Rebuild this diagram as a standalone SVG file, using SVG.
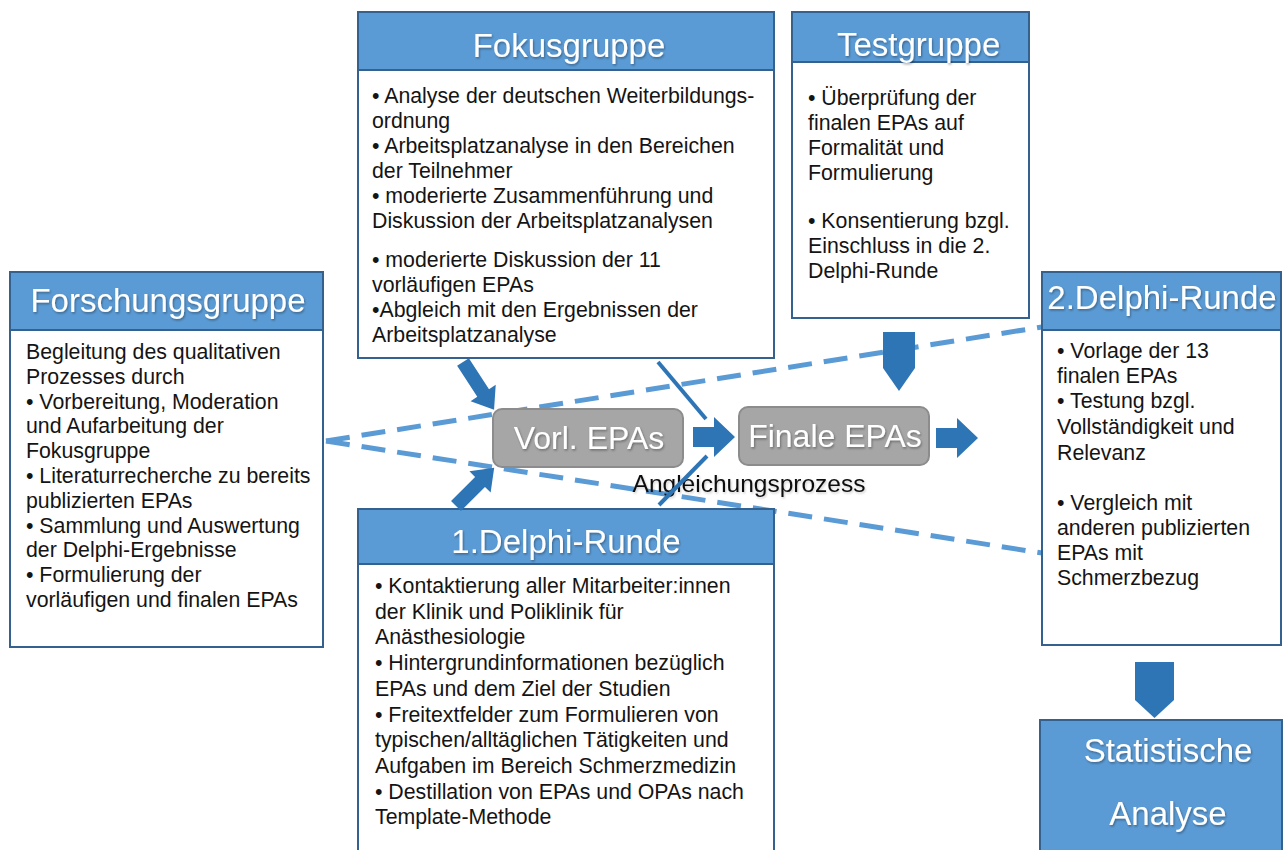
<svg xmlns="http://www.w3.org/2000/svg" width="1285" height="850" viewBox="0 0 1285 850">
  <defs>
    <filter id="shadow" x="-10%" y="-30%" width="120%" height="160%">
      <feDropShadow dx="1" dy="1.5" stdDeviation="1" flood-color="#000" flood-opacity="0.35"/>
    </filter>
    <filter id="softshadow" x="-10%" y="-30%" width="120%" height="160%">
      <feDropShadow dx="1" dy="1.5" stdDeviation="1" flood-color="#000" flood-opacity="0.2"/>
    </filter>
  </defs>
  <style>
    .box { fill: #ffffff; stroke: #35618f; stroke-width: 2; }
    .head { fill: #5b9bd5; stroke: #35618f; stroke-width: 2; }
    .title { font-family: "Liberation Sans", Arial, sans-serif; font-size: 33px; fill: #ffffff; filter: url(#shadow); }
    .body { font-family: "Liberation Sans", Arial, sans-serif; font-size: 21.3px; fill: #141414; }
    .epa { fill: #a6a6a6; stroke: #8c8c8c; stroke-width: 2; }
    .epatext { font-family: "Liberation Sans", Arial, sans-serif; font-size: 32px; fill: #ffffff; filter: url(#shadow); }
    .label { font-family: "Liberation Sans", Arial, sans-serif; font-size: 24.5px; fill: #111111; filter: url(#softshadow); }
    .dash { fill: none; stroke: #5b9bd5; stroke-width: 5; stroke-dasharray: 24 12; }
    .thin { fill: none; stroke: #2e75b6; stroke-width: 4; }
    .block { fill: #2e75b6; }
  </style>

  <!-- dashed links from the research group to the second Delphi round -->
  <g id="links">
    <line class="dash" x1="326" y1="441" x2="1042" y2="327"/>
    <line class="dash" x1="326" y1="441" x2="1042" y2="553"/>
  </g>

  <g id="forschungsgruppe">
    <rect class="box" x="10" y="272" width="313" height="375"/>
    <rect class="head" x="10" y="272" width="313" height="58"/>
    <text class="title" x="168" y="312" text-anchor="middle">Forschungsgruppe</text>
    <g class="body">
      <text x="26" y="359">Begleitung des qualitativen</text>
      <text x="26" y="383.8">Prozesses durch</text>
      <text x="26" y="408.6">• Vorbereitung, Moderation</text>
      <text x="26" y="433.4">und Aufarbeitung der</text>
      <text x="26" y="458.2">Fokusgruppe</text>
      <text x="26" y="483">• Literaturrecherche zu bereits</text>
      <text x="26" y="507.8">publizierten EPAs</text>
      <text x="26" y="532.6">• Sammlung und Auswertung</text>
      <text x="26" y="557.4">der Delphi-Ergebnisse</text>
      <text x="26" y="582.2">• Formulierung der</text>
      <text x="26" y="607">vorläufigen und finalen EPAs</text>
    </g>
  </g>

  <g id="fokusgruppe">
    <rect class="box" x="358" y="12" width="416" height="346"/>
    <rect class="head" x="358" y="12" width="416" height="58"/>
    <text class="title" x="569" y="57" text-anchor="middle">Fokusgruppe</text>
    <g class="body">
      <text x="372" y="103">• Analyse der deutschen Weiterbildungs-</text>
      <text x="372" y="128">ordnung</text>
      <text x="372" y="153">• Arbeitsplatzanalyse in den Bereichen</text>
      <text x="372" y="178">der Teilnehmer</text>
      <text x="372" y="203">• moderierte Zusammenführung und</text>
      <text x="372" y="228">Diskussion der Arbeitsplatzanalysen</text>
      <text x="372" y="267">• moderierte Diskussion der 11</text>
      <text x="372" y="292">vorläufigen EPAs</text>
      <text x="372" y="317">•Abgleich mit den Ergebnissen der</text>
      <text x="372" y="342">Arbeitsplatzanalyse</text>
    </g>
  </g>

  <g id="testgruppe">
    <rect class="box" x="792" y="12" width="237" height="306"/>
    <rect class="head" x="792" y="12" width="237" height="50"/>
    <text class="title" x="837" y="56">Testgruppe</text>
    <g class="body">
      <text x="808" y="105">• Überprüfung der</text>
      <text x="808" y="130">finalen EPAs auf</text>
      <text x="808" y="155">Formalität und</text>
      <text x="808" y="180">Formulierung</text>
      <text x="808" y="228">• Konsentierung bzgl.</text>
      <text x="808" y="253">Einschluss in die 2.</text>
      <text x="808" y="278">Delphi-Runde</text>
    </g>
  </g>

  <g id="delphi1">
    <rect class="box" x="358" y="509" width="416" height="350"/>
    <rect class="head" x="358" y="509" width="416" height="55"/>
    <text class="title" x="566" y="553" text-anchor="middle">1.Delphi-Runde</text>
    <g class="body">
      <text x="375" y="593">• Kontaktierung aller Mitarbeiter:innen</text>
      <text x="375" y="618.7">der Klinik und Poliklinik für</text>
      <text x="375" y="644.4">Anästhesiologie</text>
      <text x="375" y="670.1">• Hintergrundinformationen bezüglich</text>
      <text x="375" y="695.8">EPAs und dem Ziel der Studien</text>
      <text x="375" y="721.5">• Freitextfelder zum Formulieren von</text>
      <text x="375" y="747.2">typischen/alltäglichen Tätigkeiten und</text>
      <text x="375" y="772.9">Aufgaben im Bereich Schmerzmedizin</text>
      <text x="375" y="798.6">• Destillation von EPAs und OPAs nach</text>
      <text x="375" y="824.3">Template-Methode</text>
    </g>
  </g>

  <g id="delphi2">
    <rect class="box" x="1042" y="272" width="239" height="373"/>
    <rect class="head" x="1042" y="272" width="239" height="58"/>
    <text class="title" x="1162" y="309" text-anchor="middle">2.Delphi-Runde</text>
    <g class="body">
      <text x="1057" y="358">• Vorlage der 13</text>
      <text x="1057" y="383">finalen EPAs</text>
      <text x="1057" y="408">• Testung bzgl.</text>
      <text x="1057" y="434">Vollständigkeit und</text>
      <text x="1057" y="460">Relevanz</text>
      <text x="1057" y="510">• Vergleich mit</text>
      <text x="1057" y="535">anderen publizierten</text>
      <text x="1057" y="560">EPAs mit</text>
      <text x="1057" y="585">Schmerzbezug</text>
    </g>
  </g>

  <g id="statistik">
    <rect class="head" x="1040" y="720" width="242" height="140"/>
    <text class="title" x="1168" y="762" text-anchor="middle">Statistische</text>
    <text class="title" x="1168" y="825" text-anchor="middle">Analyse</text>
  </g>

  <g id="vorl-epas">
    <rect class="epa" x="493" y="409" width="190" height="58" rx="9"/>
    <text class="epatext" x="589" y="449" text-anchor="middle">Vorl. EPAs</text>
  </g>

  <g id="finale-epas">
    <rect class="epa" x="739" y="407" width="190" height="58" rx="9"/>
    <text class="epatext" x="835" y="447" text-anchor="middle">Finale EPAs</text>
  </g>

  <g id="angleichung">
    <text class="label" x="749" y="492" text-anchor="middle">Angleichungsprozess</text>
  </g>

  <!-- flow arrows -->
  <g id="connectors">
    <path class="block" transform="translate(463,362) rotate(57)" d="M0,-7 L37,-7 L37,-15 L57,0 L37,15 L37,7 L0,7 Z"/>
    <path class="block" transform="translate(456,506) rotate(-45)" d="M0,-7 L34,-7 L34,-15 L54,0 L34,15 L34,7 L0,7 Z"/>
    <line class="thin" x1="658" y1="362" x2="706" y2="419"/>
    <line class="thin" x1="659" y1="505" x2="707" y2="456"/>
    <polygon class="block" points="693,427 714,427 714,417 735,437 714,457 714,447 693,447"/>
    <polygon class="block" points="936,428 957,428 957,418 978,438 957,458 957,448 936,448"/>
    <polygon class="block" points="883,332 915,332 915,368 899,391 883,368"/>
    <polygon class="block" points="1135,662 1174,662 1174,700 1154.5,718 1135,700"/>
  </g>
</svg>
